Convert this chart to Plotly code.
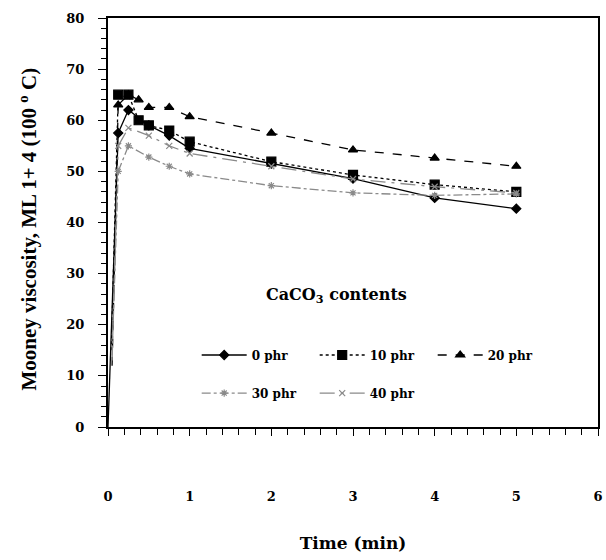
import plotly.graph_objects as go

# ---- data ----
t_0phr = [0, 0.125, 0.25, 0.5, 0.75, 1, 2, 3, 4, 5]
v_0phr = [0, 57.5, 62, 59, 57, 54.5, 51.5, 48.6, 44.8, 42.7]

t_10phr = [0.04, 0.125, 0.25, 0.375, 0.5, 0.75, 1, 2, 3, 4, 5]
v_10phr = [15, 65, 65, 60, 59, 58, 55.8, 51.9, 49.3, 47.4, 46]

t_20phr = [0.05, 0.125, 0.25, 0.375, 0.5, 0.75, 1, 2, 3, 4, 5]
v_20phr = [12, 63, 65, 64, 62.5, 62.5, 60.7, 57.5, 54.2, 52.6, 51]

t_30phr = [0.05, 0.125, 0.25, 0.5, 0.75, 1, 2, 3, 4, 5]
v_30phr = [14, 50, 55, 52.8, 51, 49.5, 47.2, 45.8, 45.3, 45.6]

t_40phr = [0.05, 0.125, 0.25, 0.5, 0.75, 1, 2, 3, 4, 5]
v_40phr = [13, 55, 58.5, 57, 55, 53.5, 51, 48.5, 47, 45.8]

labels = ["0 phr", "10 phr", "20 phr", "30 phr", "40 phr"]

SERIF = "Liberation Serif"
WIDE = "DejaVu Serif"

fig = go.Figure()

styles = [
    (t_0phr, v_0phr, "black", "solid", "diamond", 7, "legend"),
    (t_10phr, v_10phr, "black", "dot", "square", 9, "legend"),
    (t_20phr, v_20phr, "black", "dash", "triangle-up", 8, "legend"),
    (t_30phr, v_30phr, "#8a8a8a", "dashdot", "asterisk-open", 6, "legend2"),
    (t_40phr, v_40phr, "#8a8a8a", "longdashdot", "x-thin-open", 6, "legend2"),
]

for (t, v, col, dash, sym, sz, lg), name in zip(styles, labels):
    # initial rise (start point carries no marker)
    fig.add_trace(go.Scatter(
        x=t[:2], y=v[:2], mode="lines", showlegend=False, hoverinfo="skip",
        line=dict(color=col, width=1.3, dash=dash), legend=lg,
    ))
    fig.add_trace(go.Scatter(
        x=t[1:], y=v[1:], name=name, mode="lines+markers",
        line=dict(color=col, width=1.3, dash=dash),
        marker=dict(symbol=sym, size=sz, color=col, line=dict(color=col, width=1.2)),
        legend=lg,
    ))

legend_common = dict(
    orientation="h",
    bgcolor="rgba(0,0,0,0)",
    font=dict(family=WIDE, size=12, color="black", weight="bold"),
    entrywidth=58,
    entrywidthmode="pixels",
    itemwidth=45,
    xanchor="left",
    yanchor="middle",
    itemclick=False,
)

fig.update_layout(
    width=606, height=560,
    margin=dict(l=108, r=8, t=18, b=133, autoexpand=False),
    plot_bgcolor="white",
    paper_bgcolor="white",
    font=dict(family=SERIF, color="black"),
    legend=dict(x=0.181, y=0.176, **legend_common),
    legend2=dict(x=0.181, y=0.083, **legend_common),
    annotations=[
        dict(text="CaCO<sub>3</sub> contents", x=0.467, y=0.29,
             xref="paper", yref="paper", showarrow=False,
             font=dict(family=WIDE, size=16, color="black", weight="bold")),
        dict(text="Mooney viscosity, ML 1+ 4 (100 <sup>o</sup> C)",
             x=0, y=0.5, xref="paper", yref="paper", showarrow=False,
             textangle=-90, xanchor="center", yanchor="middle",
             xshift=-80, yshift=-7,
             font=dict(family=SERIF, size=21, color="black", weight="bold")),
    ],
)

fig.update_xaxes(
    range=[0, 6], dtick=1, tick0=0,
    showgrid=False, zeroline=False,
    showline=True, linecolor="black", linewidth=2, mirror=True,
    ticks="outside", ticklen=7, tickwidth=1, tickcolor="black",
    minor=dict(dtick=0.2, ticks="outside", ticklen=6, tickcolor="black", tickwidth=1),
    tickfont=dict(family=WIDE, size=13, color="black", weight="bold"),
    ticklabelstandoff=49,
    title=dict(text="Time (min)", font=dict(family=WIDE, size=17, color="black", weight="bold"), standoff=35),
    automargin=False,
)
fig.update_yaxes(
    range=[0, 80], dtick=10, tick0=0,
    showgrid=False, zeroline=False,
    showline=True, linecolor="black", linewidth=2, mirror=True,
    ticks="outside", ticklen=8, tickwidth=1, tickcolor="black",
    minor=dict(dtick=2, ticks="outside", ticklen=5, tickcolor="black", tickwidth=1),
    tickfont=dict(family=WIDE, size=13, color="black", weight="bold"),
    ticklabelstandoff=11,
    automargin=False,
)

fig.write_html("out.html")
